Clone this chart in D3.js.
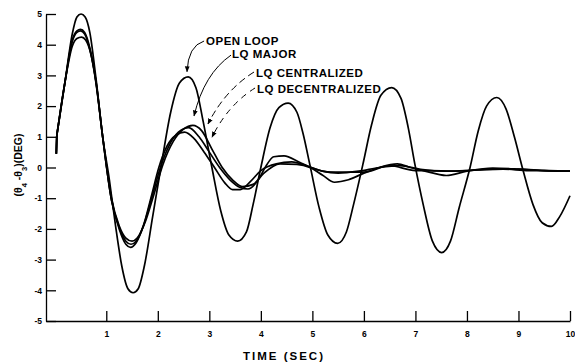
<!DOCTYPE html>
<html>
<head>
<meta charset="utf-8">
<script src="https://cdn.jsdelivr.net/npm/d3@7"></script>
<style>
    body { margin: 0; background: #fff; }
    svg { display: block; font-family: "Liberation Sans", Arial, sans-serif; }
</style>
</head>
<body>
<div id="chart"></div>
<script>
// time (sec) and response (deg)
var openLoopT = [0.03, 0.04, 0.2, 0.34, 0.43, 0.51, 0.59, 0.68, 0.8, 0.93, 1.06, 1.18, 1.3, 1.42, 1.52, 1.62, 1.74, 1.9, 2.06, 2.25, 2.42, 2.59, 2.74, 2.88, 3.05, 3.22, 3.38, 3.55, 3.72, 3.85, 4.0, 4.18, 4.35, 4.53, 4.7, 4.82, 4.95, 5.13, 5.3, 5.49, 5.66, 5.8, 5.98, 6.15, 6.33, 6.54, 6.72, 6.86, 6.99, 7.15, 7.33, 7.51, 7.68, 7.85, 8.06, 8.22, 8.38, 8.58, 8.76, 8.92, 9.09, 9.28, 9.46, 9.64, 9.8, 10.0];
var openLoopV = [0.45, 1.05, 2.8, 4.35, 4.9, 5.0, 4.9, 4.4, 2.9, 1.0, -0.4, -1.9, -3.2, -3.95, -4.08, -3.95, -3.2, -1.6, 0.0, 1.8, 2.75, 2.95, 2.6, 1.5, 0.0, -1.4, -2.2, -2.4, -2.1, -1.2, 0.0, 1.3, 1.95, 2.1, 1.8, 1.1, 0.1, -1.3, -2.2, -2.47, -2.1, -1.2, 0.1, 1.4, 2.35, 2.6, 2.25, 1.3, 0.1, -1.2, -2.4, -2.77, -2.4, -1.3, 0.0, 1.2, 2.0, 2.28, 1.9, 1.0, -0.1, -1.2, -1.8, -1.92, -1.6, -0.92];

var lqMajorT = [0.03, 0.04, 0.2, 0.34, 0.43, 0.5, 0.58, 0.68, 0.8, 0.93, 1.1, 1.25, 1.38, 1.47, 1.58, 1.72, 1.88, 2.02, 2.18, 2.35, 2.52, 2.7, 2.9, 3.1, 3.3, 3.45, 3.6, 3.8, 4.0, 4.3, 4.6, 4.9, 5.2, 5.5, 5.9, 6.3, 6.7, 7.1, 7.6, 8.0, 8.5, 9.0, 9.5, 10.0];
var lqMajorV = [0.45, 1.05, 2.8, 4.1, 4.4, 4.45, 4.35, 3.85, 2.8, 1.0, -1.05, -2.0, -2.5, -2.6, -2.45, -1.9, -0.9, 0.0, 0.7, 1.05, 1.15, 0.95, 0.5, 0.0, -0.5, -0.72, -0.72, -0.45, -0.1, 0.12, 0.18, 0.05, -0.12, -0.18, -0.12, 0.0, 0.06, -0.06, -0.12, -0.1, -0.05, -0.05, -0.1, -0.12];

var lqCentralT = [0.03, 0.04, 0.2, 0.34, 0.43, 0.5, 0.58, 0.68, 0.8, 0.93, 1.1, 1.25, 1.38, 1.48, 1.58, 1.72, 1.88, 2.05, 2.2, 2.4, 2.6, 2.8, 3.0, 3.2, 3.4, 3.6, 3.75, 3.95, 4.1, 4.25, 4.45, 4.75, 5.0, 5.34, 5.7, 6.0, 6.5, 7.0, 7.3, 7.7, 8.2, 8.7, 9.2, 9.6, 10.0];
var lqCentralV = [0.45, 1.05, 2.8, 4.15, 4.45, 4.5, 4.4, 3.9, 2.8, 1.0, -1.05, -1.95, -2.4, -2.5, -2.4, -1.9, -1.0, 0.0, 0.65, 1.15, 1.3, 1.0, 0.5, 0.0, -0.4, -0.65, -0.7, -0.4, 0.05, 0.35, 0.38, 0.17, -0.02, -0.15, -0.15, -0.15, 0.06, -0.1, -0.1, -0.12, -0.08, -0.05, -0.1, -0.1, -0.12];

var lqDecentralT = [0.03, 0.04, 0.2, 0.34, 0.43, 0.52, 0.6, 0.7, 0.8, 0.93, 1.1, 1.25, 1.38, 1.5, 1.6, 1.75, 1.92, 2.1, 2.3, 2.5, 2.68, 2.85, 3.05, 3.25, 3.45, 3.65, 3.85, 4.05, 4.37, 4.7, 4.95, 5.2, 5.43, 5.7, 5.98, 6.3, 6.65, 6.9, 7.15, 7.6, 8.0, 8.5, 9.0, 9.5, 10.0];
var lqDecentralV = [0.45, 1.05, 2.8, 3.95, 4.2, 4.25, 4.15, 3.7, 2.75, 1.0, -1.0, -1.9, -2.3, -2.4, -2.3, -1.8, -0.9, 0.1, 0.85, 1.25, 1.37, 1.2, 0.6, 0.0, -0.4, -0.62, -0.55, -0.2, 0.12, 0.1, 0.0, -0.25, -0.48, -0.4, -0.2, 0.0, 0.12, 0.0, -0.1, -0.26, -0.12, -0.02, -0.05, -0.1, -0.12];

var xTicks = [1, 2, 3, 4, 5, 6, 7, 8, 9, 10];
var yTicks = [-5, -4, -3, -2, -1, 0, 1, 2, 3, 4, 5];
var labels = ["OPEN LOOP", "LQ MAJOR", "LQ CENTRALIZED", "LQ DECENTRALIZED"];

var width = 575, height = 362;

var svg = d3.select("#chart").append("svg")
    .attr("width", width)
    .attr("height", height);

var x = d3.scaleLinear().domain([-0.17, 10]).range([46, 570]);
var y = d3.scaleLinear().domain([-5, 5]).range([321, 14]);

// arrow head for the leader lines
svg.append("defs").append("marker")
    .attr("id", "arr")
    .attr("viewBox", "0 0 10 10")
    .attr("refX", 9).attr("refY", 5)
    .attr("markerWidth", 6).attr("markerHeight", 6)
    .attr("markerUnits", "userSpaceOnUse")
    .attr("orient", "auto")
    .append("path")
    .attr("d", "M0,1 L10,5 L0,9 z")
    .attr("fill", "#000");

// axes, ticks pointing inward
var xAxis = d3.axisBottom(x).tickValues(xTicks).tickSizeInner(-10).tickSizeOuter(0).tickPadding(10)
    .tickFormat(function (d) { return String(d); });
var yAxis = d3.axisLeft(y).tickValues(yTicks).tickSizeInner(-10).tickSizeOuter(0).tickPadding(4)
    .tickFormat(function (d) { return String(d); });

var gx = svg.append("g").attr("transform", "translate(0," + y(-5) + ")").call(xAxis);
var gy = svg.append("g").attr("transform", "translate(" + x(-0.17) + ",0)").call(yAxis);

[gx, gy].forEach(function (g) {
    g.select(".domain").attr("stroke", "#000").attr("stroke-width", 1.3);
    g.selectAll(".tick line").attr("stroke", "#000").attr("stroke-width", 1.3);
    g.selectAll(".tick text")
        .attr("fill", "#000")
        .style("font-size", "8.5px")
        .style("font-weight", "bold")
        .style("font-family", "'Liberation Sans', Arial, sans-serif");
});

// response curves
var line = d3.line()
    .x(function (d) { return x(d[0]); })
    .y(function (d) { return y(d[1]); })
    .curve(d3.curveMonotoneX);

function pairs(ts, vs) {
    return ts.map(function (t, i) { return [t, vs[i]]; });
}

// the first step is a straight jump, the rest is smoothed
function curvePath(pts) {
    var rest = line(pts.slice(1));
    return "M" + x(pts[0][0]) + "," + y(pts[0][1]) + "L" + rest.slice(1);
}

var series = [
    pairs(openLoopT, openLoopV),
    pairs(lqMajorT, lqMajorV),
    pairs(lqCentralT, lqCentralV),
    pairs(lqDecentralT, lqDecentralV)
];

svg.selectAll(".curve")
    .data(series)
    .enter()
    .append("path")
    .attr("class", "curve")
    .attr("d", curvePath)
    .attr("fill", "none")
    .attr("stroke", "#000")
    .attr("stroke-width", 1.7)
    .attr("stroke-linejoin", "round");

// labels with leader lines (positions in data units)
var notePos = [
    {text: [2.936, 3.99], from: [2.898, 4.12], ctrl: [2.586, 3.96], to: [2.567, 3.12], dash: null},
    {text: [3.44, 3.57], from: [3.421, 3.66], ctrl: [2.897, 3.05], to: [2.703, 1.68], dash: null},
    {text: [3.906, 2.96], from: [3.867, 3.11], ctrl: [3.304, 2.52], to: [2.974, 1.42], dash: "7,4"},
    {text: [3.925, 2.43], from: [3.887, 2.59], ctrl: [3.363, 2.04], to: [3.052, 0.99], dash: "6,5"}
];

notePos.forEach(function (n, i) {
    svg.append("path")
        .attr("d", "M" + x(n.from[0]) + "," + y(n.from[1]) +
            " Q" + x(n.ctrl[0]) + "," + y(n.ctrl[1]) +
            " " + x(n.to[0]) + "," + y(n.to[1]))
        .attr("fill", "none")
        .attr("stroke", "#000")
        .attr("stroke-width", 1)
        .attr("stroke-dasharray", n.dash)
        .attr("marker-end", "url(#arr)");

    svg.append("text")
        .attr("x", x(n.text[0]))
        .attr("y", y(n.text[1]))
        .style("font-size", "11.5px")
        .style("font-weight", "bold")
        .style("letter-spacing", "0.5px")
        .text(labels[i]);
});

// axis titles
svg.append("text")
    .attr("x", 284)
    .attr("y", 360)
    .attr("text-anchor", "middle")
    .style("font-size", "11.5px")
    .style("font-weight", "bold")
    .style("letter-spacing", "2px")
    .text("TIME (SEC)");

var yt = svg.append("text")
    .attr("transform", "translate(22,165) rotate(-90)")
    .attr("text-anchor", "middle")
    .style("font-size", "10.5px")
    .style("font-weight", "bold");
yt.append("tspan").text("(\u03b8");
yt.append("tspan").attr("baseline-shift", "sub").style("font-size", "7.5px").text("4");
yt.append("tspan").text(" -\u03b8");
yt.append("tspan").attr("baseline-shift", "sub").style("font-size", "7.5px").text("3");
yt.append("tspan").text(")(DEG)");
</script>
</body>
</html>
